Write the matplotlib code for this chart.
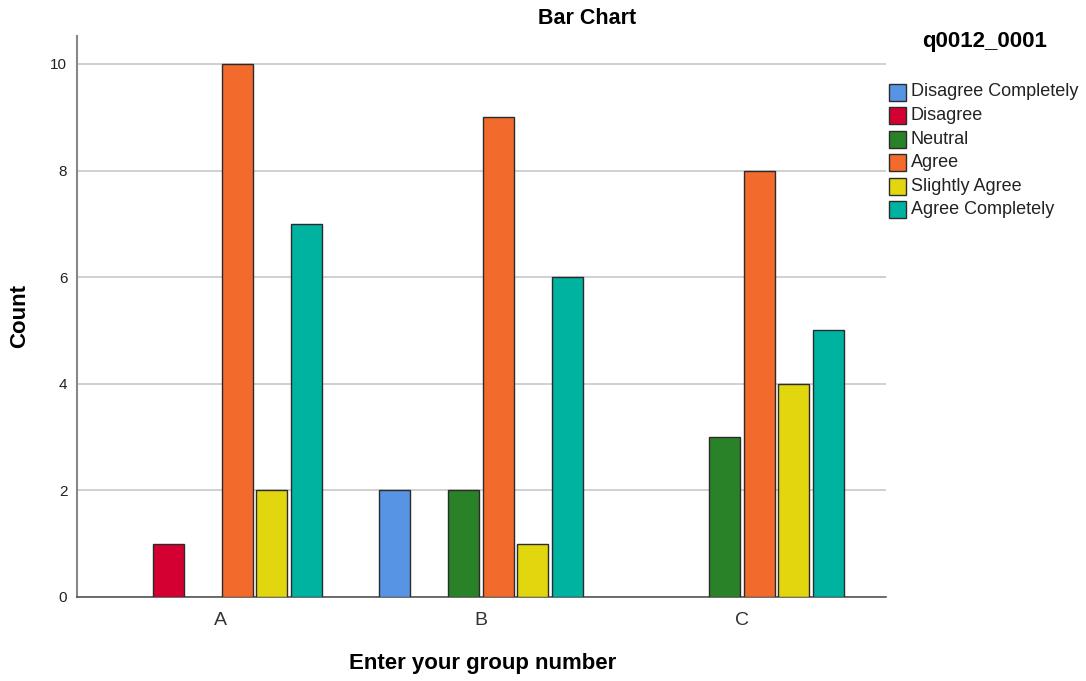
import matplotlib
matplotlib.use("Agg")
import matplotlib.pyplot as plt
import numpy as np
from matplotlib.patches import Rectangle

plt.rcParams['font.family'] = ['Liberation Sans', 'DejaVu Sans']

groups = ["A", "B", "C"]
responses = ["Disagree Completely", "Disagree", "Neutral", "Agree",
             "Slightly Agree", "Agree Completely"]
counts = {
    "Disagree Completely": [0, 2, 0],
    "Disagree":            [1, 0, 0],
    "Neutral":             [0, 2, 3],
    "Agree":               [10, 9, 8],
    "Slightly Agree":      [2, 1, 4],
    "Agree Completely":    [7, 6, 5],
}
colors = ["#5794E3", "#D50032", "#2A8228", "#F26A2C", "#E2D70F", "#00B3A0"]

W, H = 1086, 681
fig = plt.figure(figsize=(W / 100, H / 100), dpi=100)
L, R, T, B = 77, 886, 36, 597
ax = fig.add_axes([L / W, (H - B) / H, (R - L) / W, (B - T) / H])

x = np.arange(len(groups))
slot = 0.132
bw = 0.119
n = len(responses)
for i, (resp, col) in enumerate(zip(responses, colors)):
    vals = np.array(counts[resp], dtype=float)
    vals[vals == 0] = np.nan
    off = (i - (n - 1) / 2) * slot
    ax.bar(x + off, vals, width=bw, color=col, edgecolor="#2b2b2b",
           linewidth=1.0, zorder=3)

ax.set_xlim(-0.548, 2.552)
ax.set_ylim(0, 10.525)
ax.set_yticks([0, 2, 4, 6, 8, 10])
ax.set_xticks(x)
ax.set_xticklabels(groups, fontsize=14, color="#333333")
ax.tick_params(axis="y", length=0, labelsize=11, pad=7, labelcolor="#222222")
ax.tick_params(axis="x", length=0, pad=11)
ax.yaxis.grid(True, color="#c8c8c8", linewidth=1.2, zorder=0)
ax.set_axisbelow(True)
for s in ["top", "right"]:
    ax.spines[s].set_visible(False)
ax.spines["left"].set_color("#888888")
ax.spines["left"].set_linewidth(1.5)
ax.spines["bottom"].set_color("#555555")
ax.spines["bottom"].set_linewidth(1.2)

fig.text(587 / W, 1 - 18 / H, "Bar Chart", ha="center", va="center",
         fontsize=15.5, fontweight="bold")
fig.text(483 / W, 1 - 663 / H, "Enter your group number", ha="center",
         va="center", fontsize=16, fontweight="bold")
fig.text(20 / W, 1 - 316 / H, "Count", ha="center", va="center",
         rotation=90, fontsize=16, fontweight="bold")

# legend drawn in figure pixel layout
fig.text(985 / W, 1 - 42 / H, "q0012_0001", ha="center", va="center",
         fontsize=16, fontweight="bold")
for i, (resp, col) in enumerate(zip(responses, colors)):
    yc = 92 + 23.6 * i
    fig.patches.append(Rectangle(((889) / W, 1 - (yc + 8.5) / H), 17 / W, 17 / H,
                                 transform=fig.transFigure, facecolor=col,
                                 edgecolor="#2b2b2b", linewidth=1.0))
    fig.text(911 / W, 1 - yc / H, resp, ha="left", va="center",
             fontsize=13, color="#222222")

fig.savefig("out.png", dpi=100)
